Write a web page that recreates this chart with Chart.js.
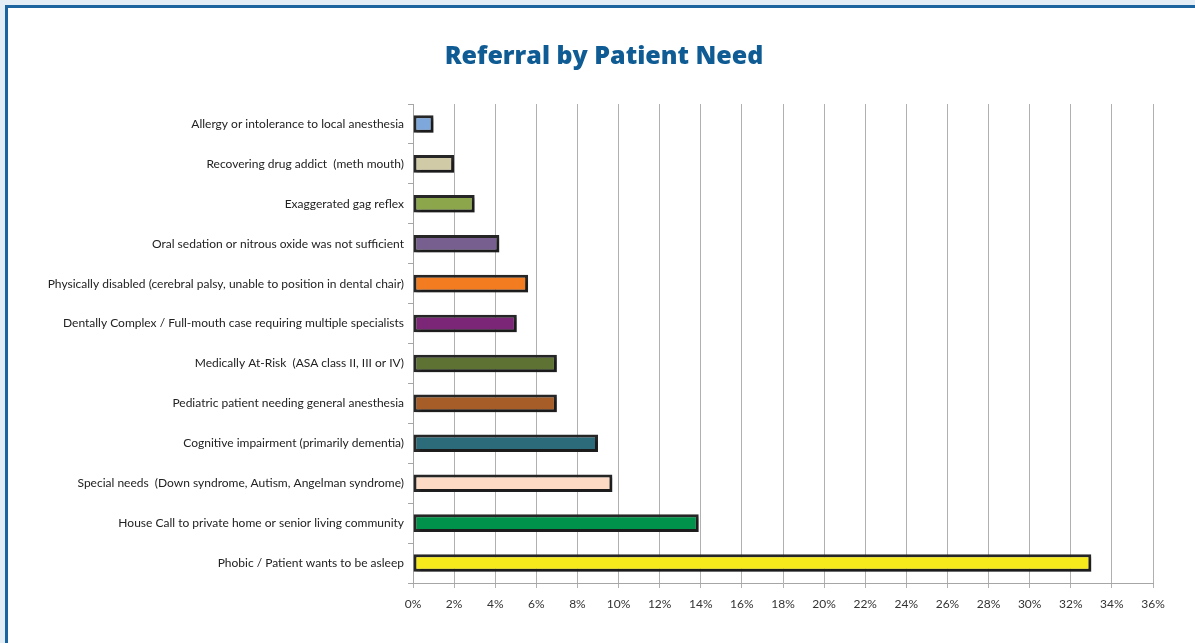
<!DOCTYPE html>
<html>
<head>
<meta charset="utf-8">
<script src="https://cdn.jsdelivr.net/npm/chart.js@4/dist/chart.umd.min.js"></script>
<style>
  html, body { margin: 0; padding: 0; width: 1195px; height: 643px; overflow: hidden; background: #e3edf5; }
  #frame { position: absolute; left: 5px; top: 5px; width: 1195px; height: 643px; background: #fff; border-left: 3px solid #1b64a0; border-top: 3px solid #1b64a0; box-sizing: border-box; }
  #wrap { position: absolute; left: 0; top: 0; width: 1195px; height: 643px; }
</style>
</head>
<body>
<div id="frame"></div>
<div id="wrap"><canvas id="c" width="1195" height="643"></canvas></div>
<script>
const categories = [
  "Allergy or intolerance to local anesthesia",
  "Recovering drug addict  (meth mouth)",
  "Exaggerated gag reflex",
  "Oral sedation or nitrous oxide was not sufficient",
  "Physically disabled (cerebral palsy, unable to position in dental chair)",
  "Dentally Complex / Full-mouth case requiring multiple specialists",
  "Medically At-Risk  (ASA class II, III or IV)",
  "Pediatric patient needing general anesthesia",
  "Cognitive impairment (primarily dementia)",
  "Special needs  (Down syndrome, Autism, Angelman syndrome)",
  "House Call to private home or senior living community",
  "Phobic / Patient wants to be asleep"
];
const values = [1.0, 2.0, 3.0, 4.2, 5.6, 5.05, 7.0, 7.0, 9.0, 9.7, 13.9, 33.0];
const barColors = ["#7ea8dc", "#d1caa7", "#8ca64c", "#77608f", "#f47c20", "#7c2677", "#5e7333", "#a65d27", "#2c6b7a", "#fcdac3", "#00924a", "#f6e91c"];
const xMin = 0, xMax = 36, xStep = 2;
const titleText = "Referral by Patient Need";

const shadowPlugin = {
  id: 'barShadow',
  beforeDatasetsDraw(chart) {
    const ctx = chart.ctx;
    ctx.save();
    ctx.shadowColor = 'rgba(0,0,0,0.28)';
    ctx.shadowOffsetX = 3;
    ctx.shadowOffsetY = 3;
    ctx.shadowBlur = 2;
  },
  afterDatasetsDraw(chart) { chart.ctx.restore(); }
};

new Chart(document.getElementById('c'), {
  type: 'bar',
  data: {
    labels: categories,
    datasets: [{
      data: values,
      backgroundColor: barColors,
      borderColor: '#262626',
      borderWidth: 3,
      borderSkipped: false,
      categoryPercentage: 1,
      barPercentage: 0.44
    }]
  },
  plugins: [shadowPlugin],
  options: {
    indexAxis: 'y',
    responsive: false,
    animation: false,
    layout: { padding: { left: 13, right: 0, top: 0, bottom: 20 } },
    plugins: {
      legend: { display: false },
      tooltip: { enabled: false },
      title: {
        display: true,
        text: titleText,
        color: '#0f5b94',
        font: { family: 'Open Sans', size: 25, weight: '800' },
        padding: { top: 42, bottom: 32 }
      }
    },
    scales: {
      x: {
        type: 'linear',
        min: xMin, max: xMax,
        ticks: {
          stepSize: xStep,
          color: '#333',
          padding: 9,
          font: { family: 'Lato', size: 12 },
          callback: v => v + '%'
        },
        grid: { color: '#b0b0b0', lineWidth: 1, tickLength: 5, drawTicks: true },
        border: { color: '#a6a6a6', width: 1 },
        afterFit(s) { s.height = 40; }
      },
      y: {
        type: 'category',
        offset: true,
        ticks: {
          color: '#222',
          padding: 4,
          font: { family: 'Lato', size: 12 },
          autoSkip: false
        },
        grid: { offset: true, drawOnChartArea: false, tickLength: 5, color: '#a6a6a6' },
        border: { color: '#a6a6a6', width: 1 },
        afterFit(s) { s.width = 400; }
      },
      yRightSpace: {
        type: 'category',
        position: 'right',
        display: true,
        ticks: { display: false },
        grid: { display: false, drawTicks: false },
        border: { display: false },
        afterFit(s) { s.width = 42; }
      }
    }
  }
});
</script>
</body>
</html>
